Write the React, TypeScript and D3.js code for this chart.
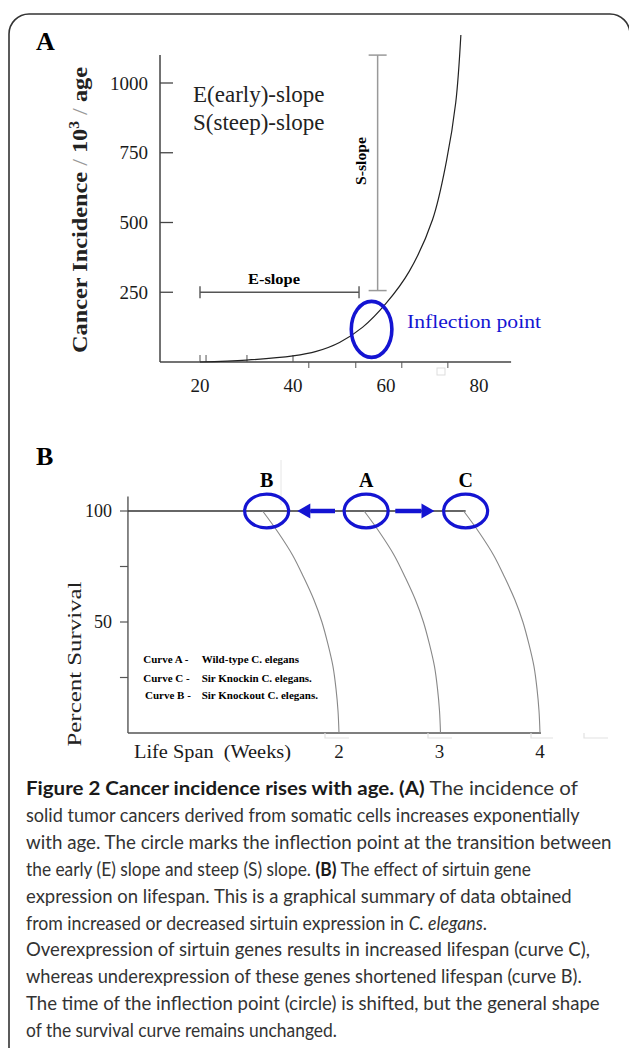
import React, { useEffect, useRef } from 'react';
import * as d3 from 'd3';

// Panel A: cancer incidence against age
const ages = [20, 30, 40, 45, 50, 55, 60, 65, 70, 73, 75, 76.1];
const incidence = [0, 7, 22, 38, 70, 125, 210, 325, 510, 720, 930, 1172];
const incidenceTicks = [250, 500, 750, 1000];
const ageTickLabels = [20, 40, 60, 80];
const ageTicksUp = [20, 21.3, 30.1, 40];
const ageTicksDown = [43.4, 53.5, 63.4, 73.3];
const eSlopeAges = [20, 54.2];
const eSlopeLevel = 250;
const sSlopeAge = 58.2;
const sSlopeLevels = [256, 1100];
const inflectionAge = 56.9;
const inflectionValue = 117;

// Panel B: survival curves (weeks, percent)
const survivalPct = [100, 90, 80, 70, 60, 50, 40, 30, 20, 10, 0];
const curveBWeeks = [1.24, 1.40, 1.54, 1.65, 1.75, 1.83, 1.89, 1.94, 1.97, 1.99, 2.0];
const curveAWeeks = [2.25, 2.41, 2.55, 2.66, 2.76, 2.84, 2.90, 2.95, 2.98, 3.0, 3.01];
const curveCWeeks = [3.24, 3.40, 3.54, 3.65, 3.75, 3.83, 3.89, 3.94, 3.97, 3.99, 4.0];
const circleLabels = ['B', 'A', 'C'];
const circleWeeks = [1.28, 2.27, 3.26];
const weekTicks = [2, 3, 4];
const survivalTicks = [25, 50, 75, 100];
const survivalTickLabels = [50, 100];
const arrowLeft = [1.96, 1.585];
const arrowRight = [2.56, 2.95];
const legendCurves = ['Curve A -', 'Curve C -', 'Curve B -'];
const legendNames = ['Wild-type C. elegans', 'Sir Knockin C. elegans.', 'Sir Knockout C. elegans.'];

// caption: [text, style] segments per line
const captionLines: Array<Array<[string, string]>> = [
  [['Figure 2 Cancer incidence rises with age. (A)', 'b'], [' The incidence of', 'n']],
  [['solid tumor cancers derived from somatic cells increases exponentially', 'n']],
  [['with age. The circle marks the inflection point at the transition between', 'n']],
  [['the early (E) slope and steep (S) slope. ', 'n'], ['(B)', 'b'], [' The effect of sirtuin gene', 'n']],
  [['expression on lifespan. This is a graphical summary of data obtained', 'n']],
  [['from increased or decreased sirtuin expression in ', 'n'], ['C. elegans', 'i'], ['.', 'n']],
  [['Overexpression of sirtuin genes results in increased lifespan (curve C),', 'n']],
  [['whereas underexpression of these genes shortened lifespan (curve B).', 'n']],
  [['The time of the inflection point (circle) is shifted, but the general shape', 'n']],
  [['of the survival curve remains unchanged.', 'n']],
];
const captionWidths = [552, 554, 586, 505, 546, 461, 564, 556, 574, 311];

const BLUE = '#1414d2';

export default function App() {
  const svgRef = useRef<SVGSVGElement>(null);

  useEffect(() => {
    const svg = d3.select(svgRef.current);
    svg.selectAll('*').remove();
    const serif = '"Liberation Serif", "Times New Roman", serif';

    // frame
    svg.append('path')
      .attr('d', 'M9,1070 V34 A20,20 0 0 1 29,14 H610 A20,20 0 0 1 630,34')
      .attr('fill', 'none')
      .attr('stroke', '#333')
      .attr('stroke-width', 1.6);

    // ---------- Panel A ----------
    const xA = d3.scaleLinear().domain([20, 80]).range([200, 479]);
    const yA = d3.scaleLinear().domain([0, 1000]).range([362, 83]);
    const gA = svg.append('g');

    gA.append('text')
      .attr('x', 36).attr('y', 50)
      .style('font-family', serif).style('font-weight', 'bold').style('font-size', '26px')
      .text('A');

    // axes
    gA.append('line')
      .attr('x1', xA(11.4)).attr('x2', xA(11.4))
      .attr('y1', yA(1100)).attr('y2', yA(0))
      .attr('stroke', '#444').attr('stroke-width', 1.5);
    gA.append('line')
      .attr('x1', xA(11.4)).attr('x2', xA(86.9))
      .attr('y1', yA(0)).attr('y2', yA(0))
      .attr('stroke', '#444').attr('stroke-width', 1.5);

    incidenceTicks.forEach(t => {
      gA.append('line')
        .attr('x1', xA(11.4)).attr('x2', xA(11.4) + 13)
        .attr('y1', yA(t)).attr('y2', yA(t))
        .attr('stroke', '#444').attr('stroke-width', 1.3);
      gA.append('text')
        .attr('x', 148).attr('y', yA(t)).attr('dy', '0.35em')
        .attr('text-anchor', 'end')
        .style('font-family', serif).style('font-size', '19px').style('fill', '#1a1a1a')
        .text(t);
    });
    ageTicksUp.forEach(t => {
      gA.append('line')
        .attr('x1', xA(t)).attr('x2', xA(t))
        .attr('y1', yA(0)).attr('y2', yA(0) - 7)
        .attr('stroke', '#555').attr('stroke-width', 1);
    });
    ageTicksDown.forEach(t => {
      gA.append('line')
        .attr('x1', xA(t)).attr('x2', xA(t))
        .attr('y1', yA(0)).attr('y2', yA(0) + 6)
        .attr('stroke', '#555').attr('stroke-width', 1);
    });
    ageTickLabels.forEach(t => {
      gA.append('text')
        .attr('x', xA(t)).attr('y', 392)
        .attr('text-anchor', 'middle')
        .style('font-family', serif).style('font-size', '19px').style('fill', '#1a1a1a')
        .text(t);
    });

    // y title
    const titleA = gA.append('text')
      .attr('transform', 'translate(87,210) rotate(-90)')
      .attr('text-anchor', 'middle')
      .attr('textLength', 286)
      .attr('lengthAdjust', 'spacingAndGlyphs')
      .style('font-family', serif).style('font-size', '22px').style('fill', '#222');
    titleA.append('tspan').style('font-weight', 'bold').text('Cancer Incidence ');
    titleA.append('tspan').style('fill', '#999').text('/ ');
    titleA.append('tspan').style('font-weight', 'bold').text('10');
    titleA.append('tspan').style('font-weight', 'bold').style('font-size', '14px').attr('dy', -8).text('3');
    titleA.append('tspan').style('fill', '#999').attr('dy', 8).text(' / ');
    titleA.append('tspan').style('font-weight', 'bold').text('age');

    gA.append('text')
      .attr('x', 193).attr('y', 102)
      .style('font-family', serif).style('font-size', '23px').style('fill', '#222')
      .text('E(early)-slope');
    gA.append('text')
      .attr('x', 193).attr('y', 130)
      .style('font-family', serif).style('font-size', '23px').style('fill', '#222')
      .text('S(steep)-slope');

    // E-slope bar
    gA.append('line')
      .attr('x1', xA(eSlopeAges[0])).attr('x2', xA(eSlopeAges[1]))
      .attr('y1', yA(eSlopeLevel)).attr('y2', yA(eSlopeLevel))
      .attr('stroke', '#555').attr('stroke-width', 1.4);
    eSlopeAges.forEach(a => {
      gA.append('line')
        .attr('x1', xA(a)).attr('x2', xA(a))
        .attr('y1', yA(eSlopeLevel) - 6).attr('y2', yA(eSlopeLevel) + 6)
        .attr('stroke', '#555').attr('stroke-width', 1.4);
    });
    gA.append('text')
      .attr('x', 274).attr('y', 284)
      .attr('text-anchor', 'middle')
      .attr('textLength', 52).attr('lengthAdjust', 'spacingAndGlyphs')
      .style('font-family', serif).style('font-weight', 'bold').style('font-size', '14px')
      .text('E-slope');

    // S-slope bar
    gA.append('line')
      .attr('x1', xA(sSlopeAge)).attr('x2', xA(sSlopeAge))
      .attr('y1', yA(sSlopeLevels[0])).attr('y2', yA(sSlopeLevels[1]))
      .attr('stroke', '#999').attr('stroke-width', 1.5);
    sSlopeLevels.forEach(v => {
      gA.append('line')
        .attr('x1', xA(sSlopeAge) - 9).attr('x2', xA(sSlopeAge) + 9)
        .attr('y1', yA(v)).attr('y2', yA(v))
        .attr('stroke', '#999').attr('stroke-width', 1.5);
    });
    gA.append('text')
      .attr('transform', 'translate(366,161) rotate(-90)')
      .attr('text-anchor', 'middle')
      .attr('textLength', 48).attr('lengthAdjust', 'spacingAndGlyphs')
      .style('font-family', serif).style('font-weight', 'bold').style('font-size', '14px')
      .text('S-slope');

    // incidence curve
    const lineA = d3.line<number>()
      .x((_, i) => xA(ages[i]))
      .y(d => yA(d))
      .curve(d3.curveCatmullRom.alpha(0.5));
    gA.append('path')
      .attr('d', lineA(incidence))
      .attr('fill', 'none')
      .attr('stroke', '#222')
      .attr('stroke-width', 1.2);

    // inflection
    gA.append('ellipse')
      .attr('cx', xA(inflectionAge)).attr('cy', yA(inflectionValue))
      .attr('rx', 20.3).attr('ry', 28)
      .attr('fill', 'none').attr('stroke', BLUE).attr('stroke-width', 3.6);
    gA.append('text')
      .attr('x', 407).attr('y', 328)
      .attr('textLength', 134).attr('lengthAdjust', 'spacingAndGlyphs')
      .style('font-family', serif).style('font-size', '18px').style('fill', BLUE)
      .text('Inflection point');

    gA.append('rect')
      .attr('x', 437).attr('y', 368).attr('width', 8).attr('height', 7)
      .attr('fill', 'none').attr('stroke', '#ddd').attr('stroke-width', 1);

    // ---------- Panel B ----------
    const xB = d3.scaleLinear().domain([0, 4]).range([138, 540]);
    const yB = d3.scaleLinear().domain([0, 100]).range([733, 511]);
    const gB = svg.append('g');

    gB.append('text')
      .attr('x', 36).attr('y', 465)
      .style('font-family', serif).style('font-weight', 'bold').style('font-size', '26px')
      .text('B');

    gB.append('line')
      .attr('x1', xB(-0.1)).attr('x2', xB(-0.1))
      .attr('y1', yB(106.5)).attr('y2', yB(0))
      .attr('stroke', '#555').attr('stroke-width', 1.4);
    gB.append('line')
      .attr('x1', xB(-0.1)).attr('x2', xB(4.01))
      .attr('y1', yB(0)).attr('y2', yB(0))
      .attr('stroke', '#555').attr('stroke-width', 1.4);

    survivalTicks.forEach(t => {
      gB.append('line')
        .attr('x1', xB(-0.1) - 8).attr('x2', xB(-0.1))
        .attr('y1', yB(t)).attr('y2', yB(t))
        .attr('stroke', '#555').attr('stroke-width', 1.2);
    });
    survivalTickLabels.forEach(t => {
      gB.append('text')
        .attr('x', 112).attr('y', yB(t)).attr('dy', '0.35em')
        .attr('text-anchor', 'end')
        .style('font-family', serif).style('font-size', '18px').style('fill', '#1a1a1a')
        .text(t);
    });
    weekTicks.forEach(t => {
      gB.append('text')
        .attr('x', xB(t)).attr('y', 758)
        .attr('text-anchor', 'middle')
        .style('font-family', serif).style('font-size', '19px').style('fill', '#1a1a1a')
        .text(t);
    });
    gB.append('text')
      .attr('x', 134).attr('y', 758)
      .attr('textLength', 157).attr('lengthAdjust', 'spacingAndGlyphs')
      .style('font-family', serif).style('font-size', '19px').style('fill', '#1a1a1a')
      .style('white-space', 'pre')
      .text('Life Span  (Weeks)');
    gB.append('text')
      .attr('transform', 'translate(81,664) rotate(-90)')
      .attr('text-anchor', 'middle')
      .attr('textLength', 165).attr('lengthAdjust', 'spacingAndGlyphs')
      .style('font-family', serif).style('font-size', '18px').style('fill', '#222')
      .text('Percent Survival');

    // faint artifacts near axis
    [[325, 349], [428, 452], [531, 553], [584, 608]].forEach(([a, b]) => {
      gB.append('path')
        .attr('d', `M${a},${yB(0)} V${yB(0) + 5} H${b}`)
        .attr('fill', 'none').attr('stroke', '#e2e2e2').attr('stroke-width', 1.2);
    });
    gB.append('line')
      .attr('x1', 281).attr('x2', 281).attr('y1', 460).attr('y2', 505)
      .attr('stroke', '#e6e6e6').attr('stroke-width', 1);

    // 100% line
    gB.append('line')
      .attr('x1', xB(-0.1)).attr('x2', xB(circleWeeks[2]))
      .attr('y1', yB(100)).attr('y2', yB(100))
      .attr('stroke', '#333').attr('stroke-width', 1.5);

    // survival curves
    const lineB = (weeks: number[]) => d3.line<number>()
      .x((_, i) => xB(weeks[i]))
      .y(d => yB(d))
      .curve(d3.curveCatmullRom.alpha(0.5))(survivalPct);
    [curveBWeeks, curveAWeeks, curveCWeeks].forEach(w => {
      gB.append('path')
        .attr('d', lineB(w))
        .attr('fill', 'none')
        .attr('stroke', '#888')
        .attr('stroke-width', 1.1);
    });

    // circles + labels
    circleWeeks.forEach((w, i) => {
      gB.append('ellipse')
        .attr('cx', xB(w)).attr('cy', yB(100))
        .attr('rx', 22).attr('ry', 16.8)
        .attr('fill', 'none').attr('stroke', BLUE).attr('stroke-width', 3.2);
      gB.append('text')
        .attr('x', xB(w)).attr('y', 487)
        .attr('text-anchor', 'middle')
        .style('font-family', serif).style('font-weight', 'bold').style('font-size', '20px')
        .text(circleLabels[i]);
    });

    // arrows
    [arrowLeft, arrowRight].forEach(([from, to]) => {
      const x0 = xB(from);
      const x1 = xB(to);
      const dir = Math.sign(x1 - x0);
      const base = x1 - dir * 13;
      const y = yB(100);
      gB.append('line')
        .attr('x1', x0).attr('x2', base)
        .attr('y1', y).attr('y2', y)
        .attr('stroke', BLUE).attr('stroke-width', 4.5);
      gB.append('path')
        .attr('d', `M${x1},${y} L${base},${y - 7.5} L${base},${y + 7.5} Z`)
        .attr('fill', BLUE);
    });

    // legend
    const legendY = [663, 681.7, 699];
    legendCurves.forEach((c, i) => {
      gB.append('text')
        .attr('x', i === 2 ? 145 : 143.3).attr('y', legendY[i])
        .style('font-family', serif).style('font-weight', 'bold').style('font-size', '11px')
        .text(c);
      gB.append('text')
        .attr('x', 201.7).attr('y', legendY[i])
        .style('font-family', serif).style('font-weight', 'bold').style('font-size', '11px')
        .text(legendNames[i]);
    });

    // ---------- caption ----------
    // each segment is its own text; the line group is squeezed to the measured width
    const sans = 'Lato, "Open Sans", sans-serif';
    captionLines.forEach((segs, i) => {
      const line = svg.append('g');
      let x = 0;
      segs.forEach(([txt, st]) => {
        const t = line.append('text')
          .attr('x', x).attr('y', 0)
          .style('font-family', sans).style('font-size', '19px').style('fill', '#333')
          .style('white-space', 'pre')
          .text(txt);
        if (st === 'b') t.style('font-weight', 'bold').style('fill', '#1a1a1a');
        if (st === 'i') t.style('font-style', 'italic');
        x += (t.node() as SVGTextElement).getComputedTextLength();
      });
      const k = x > 0 ? captionWidths[i] / x : 1;
      line.attr('transform', `translate(26,${795 + i * 26.9}) scale(${k},1)`);
    });
  }, []);

  return (
    <svg
      ref={svgRef}
      width={629}
      height={1048}
      style={{ position: 'absolute', left: 0, top: 0, background: '#fff' }}
    />
  );
}
